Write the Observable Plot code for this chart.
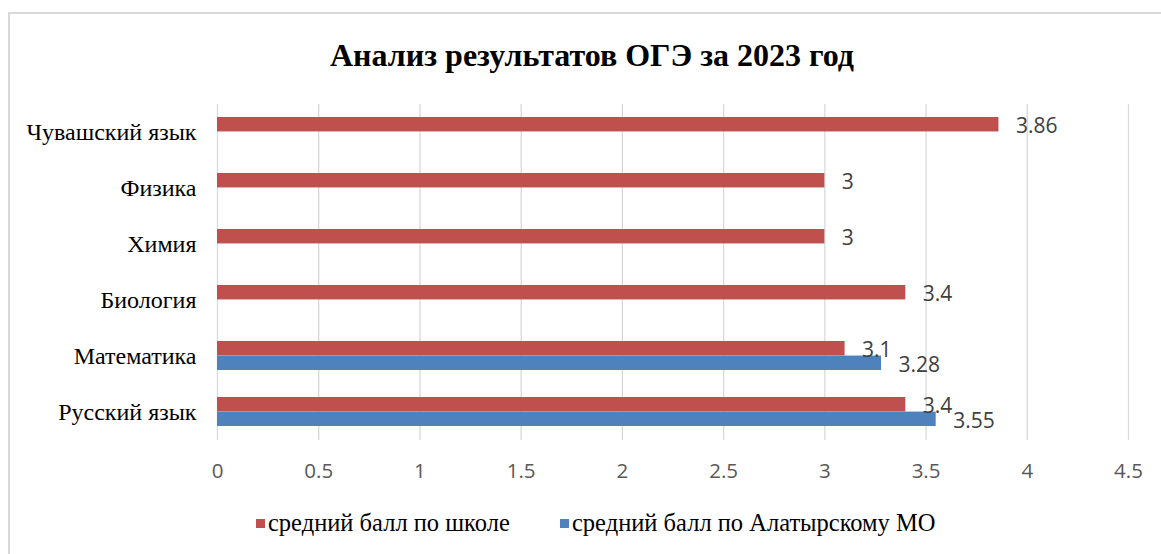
<!DOCTYPE html>
<html>
<head>
<meta charset="utf-8">
<script src="https://cdn.jsdelivr.net/npm/d3@7"></script>
<script src="https://cdn.jsdelivr.net/npm/@observablehq/plot@0.6"></script>
<style>
  html, body { margin: 0; padding: 0; background: #fff; overflow: hidden; width: 1161px; height: 554px; }
  #frame { position: absolute; left: 8px; top: 12px; width: 2000px; height: 2000px; border-top: 2px solid #d9d9d9; border-left: 2px solid #d9d9d9; box-sizing: border-box; }
  #title { position: absolute; left: 0; top: 36px; width: 1184px; text-align: center; font-family: "Liberation Serif", "Times New Roman", serif; font-weight: bold; font-size: 32px; line-height: 38px; color: #000; }
  #chart { position: absolute; left: 0; top: 80px; }
  .leg { position: absolute; top: 508px; display: flex; align-items: center; font-family: "Liberation Serif", "Times New Roman", serif; font-size: 24.5px; line-height: 30px; color: #000; white-space: nowrap; }
  .sw { width: 9px; height: 9px; margin-right: 3px; }
</style>
</head>
<body>
<div id="frame"></div>
<div id="title">Анализ результатов ОГЭ за 2023 год</div>
<div id="chart"></div>
<div class="leg" style="left:256px"><div class="sw" style="background:#C0504D"></div>средний балл по школе</div>
<div class="leg" style="left:560px"><div class="sw" style="background:#4F81BD"></div>средний балл по Алатырскому МО</div>
<script>
// Data (top-to-bottom order as displayed)
const categories = ["Чувашский язык", "Физика", "Химия", "Биология", "Математика", "Русский язык"];
const schoolScores = [3.86, 3, 3, 3.4, 3.1, 3.4];
const moScores = [null, null, null, null, 3.28, 3.55];
const xTicks = [0, 0.5, 1, 1.5, 2, 2.5, 3, 3.5, 4, 4.5];

const red = "#C0504D";
const blue = "#4F81BD";

const school = categories.map((c, i) => ({category: c, value: schoolScores[i]}));
const mo = categories.map((c, i) => ({category: c, value: moScores[i]})).filter(d => d.value != null);

const bandStep = 56;
const half = bandStep * 0.52 / 2;

const plot = Plot.plot({
  width: 1161,
  height: 410,
  marginTop: 24,
  marginBottom: 50,
  marginLeft: 217,
  marginRight: 33,
  style: {fontFamily: "'Open Sans', sans-serif", background: "transparent"},
  x: {domain: [0, 4.5], label: null},
  y: {type: "band", domain: categories, paddingInner: 0.48, paddingOuter: 0.24, label: null},
  marks: [
    Plot.gridX(xTicks, {stroke: "#d9d9d9", strokeOpacity: 1, strokeWidth: 1.3}),
    Plot.barX(school, {x: "value", y: "category", fill: red, insetBottom: half}),
    Plot.barX(mo, {x: "value", y: "category", fill: blue, insetTop: half}),
    Plot.text(school, {x: "value", y: "category", text: d => String(d.value), dx: 17, dy: -6, textAnchor: "start", fontSize: 21, fill: "#404040", fontFamily: "'Open Sans', sans-serif"}),
    Plot.text(mo, {x: "value", y: "category", text: d => String(d.value), dx: 17, dy: 9, textAnchor: "start", fontSize: 21, fill: "#404040", fontFamily: "'Open Sans', sans-serif"}),
    Plot.axisX({ticks: xTicks, tickFormat: d => String(d), tickSize: 0, tickPadding: 23, fontSize: 20.5, fill: "#595959", fontFamily: "'Open Sans', sans-serif", label: null}),
    Plot.axisY({tickSize: 0, tickPadding: 21, fontSize: 24, fill: "#000", fontFamily: "'Liberation Serif', 'Times New Roman', serif", label: null})
  ]
});
document.getElementById("chart").appendChild(plot);
</script>
</body>
</html>
